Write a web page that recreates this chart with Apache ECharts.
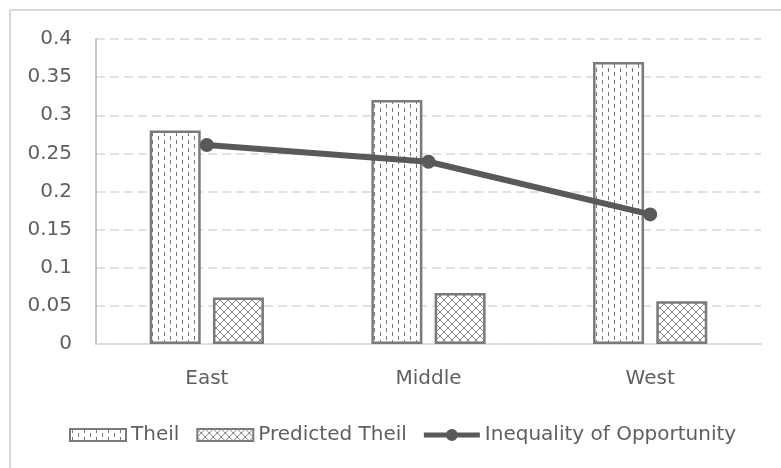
<!DOCTYPE html>
<html>
<head>
<meta charset="utf-8">
<script src="https://cdn.jsdelivr.net/npm/echarts@6/dist/echarts.min.js"></script>
<style>
  html, body { margin: 0; padding: 0; background: #fff; }
  #chart { width: 781px; height: 468px; }
</style>
</head>
<body>
<div id="chart"></div>
<script>
// Regions and their inequality measures
const categories = ['East', 'Middle', 'West'];
const theil = [0.28, 0.32, 0.37];
const predictedTheil = [0.061, 0.067, 0.056];
const inequalityOfOpportunity = [0.261, 0.239, 0.170];

const FONT = "'DejaVu Sans', sans-serif";
const TEXT = '#5f5f5f';

// Fill for "Theil": staggered short vertical dashes
function dashPattern() {
  const c = document.createElement('canvas');
  c.width = 12; c.height = 8;
  const g = c.getContext('2d');
  g.fillStyle = '#fff';
  g.fillRect(0, 0, 12, 8);
  g.fillStyle = '#767676';
  g.fillRect(2, 0, 1, 4);
  g.fillRect(8, 4, 1, 4);
  return c;
}

// Fill for "Predicted Theil": diagonal cross-hatch
function crossPattern() {
  const c = document.createElement('canvas');
  c.width = 8; c.height = 8;
  const g = c.getContext('2d');
  g.fillStyle = '#fff';
  g.fillRect(0, 0, 8, 8);
  g.strokeStyle = '#858585';
  g.lineWidth = 1;
  g.beginPath();
  g.moveTo(0, 0); g.lineTo(8, 8);
  g.moveTo(8, 0); g.lineTo(0, 8);
  g.stroke();
  return c;
}

// Legend glyph for the line series: thick stroke with a round marker in the middle
const LINE_ICON = 'path://M0,3.5 L56,3.5 L56,8.5 L0,8.5 Z M28,0 A6,6 0 1,1 28,12 A6,6 0 1,1 28,0 Z';

const chart = echarts.init(document.getElementById('chart'), null, { renderer: 'canvas' });

chart.setOption({
  animation: false,
  backgroundColor: '#fff',
  textStyle: { fontFamily: FONT, color: TEXT },
  graphic: [
    { type: 'line', shape: { x1: 10, y1: 10, x2: 781, y2: 10 }, style: { stroke: '#d9d9d9', lineWidth: 2 } },
    { type: 'line', shape: { x1: 10, y1: 10, x2: 10, y2: 468 }, style: { stroke: '#d9d9d9', lineWidth: 2 } }
  ],
  grid: { left: 96, right: 20, top: 39, bottom: 124, containLabel: false },
  legend: {
    left: 64,
    top: 420,
    itemWidth: 56,
    itemHeight: 12,
    itemGap: 17,
    textStyle: { fontFamily: FONT, fontSize: 20, color: TEXT },
    data: [
      { name: 'Theil', icon: 'rect' },
      { name: 'Predicted Theil', icon: 'rect' },
      { name: 'Inequality of Opportunity', icon: LINE_ICON }
    ]
  },
  xAxis: {
    type: 'category',
    data: categories,
    axisLine: { show: true, lineStyle: { color: '#d9d9d9', width: 1.5 } },
    axisTick: { show: false },
    axisLabel: { margin: 25, fontFamily: FONT, fontSize: 20, color: TEXT },
    splitLine: { show: false }
  },
  yAxis: {
    type: 'value',
    min: 0,
    max: 0.4,
    interval: 0.05,
    axisLine: { show: true, lineStyle: { color: '#b3b3b3', width: 1.5 } },
    axisTick: { show: false },
    axisLabel: {
      margin: 24,
      fontFamily: FONT,
      fontSize: 20,
      color: TEXT,
      formatter: v => String(+v.toFixed(2))
    },
    splitLine: { show: true, lineStyle: { color: '#d9d9d9', width: 1.5, type: [9, 5] } }
  },
  series: [
    {
      name: 'Theil',
      type: 'bar',
      data: theil,
      barWidth: 51,
      barGap: '24%',
      itemStyle: {
        color: { image: dashPattern(), repeat: 'repeat' },
        borderColor: '#7a7a7a',
        borderWidth: 2.5
      }
    },
    {
      name: 'Predicted Theil',
      type: 'bar',
      data: predictedTheil,
      barWidth: 51,
      itemStyle: {
        color: { image: crossPattern(), repeat: 'repeat' },
        borderColor: '#7a7a7a',
        borderWidth: 2.5
      }
    },
    {
      name: 'Inequality of Opportunity',
      type: 'line',
      data: inequalityOfOpportunity,
      z: 5,
      symbol: 'circle',
      symbolSize: 14,
      lineStyle: { color: '#595959', width: 6 },
      itemStyle: { color: '#595959' }
    }
  ]
});
</script>
</body>
</html>
